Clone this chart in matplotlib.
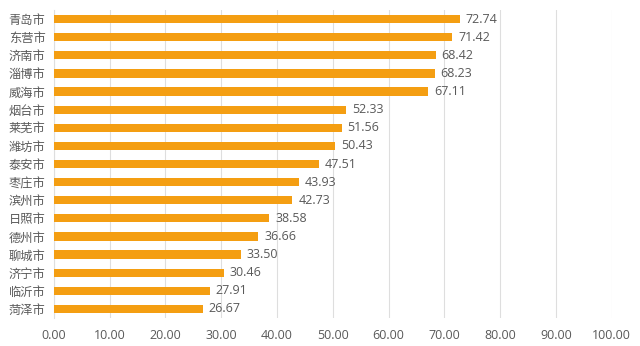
import matplotlib
matplotlib.use("Agg")
import matplotlib.pyplot as plt

cities = ["青岛市", "东营市", "济南市", "淄博市", "威海市", "烟台市", "莱芜市", "潍坊市", "泰安市",
          "枣庄市", "滨州市", "日照市", "德州市", "聊城市", "济宁市", "临沂市", "菏泽市"]
values = [72.74, 71.42, 68.42, 68.23, 67.11, 52.33, 51.56, 50.43, 47.51,
          43.93, 42.73, 38.58, 36.66, 33.50, 30.46, 27.91, 26.67]
xticks = [0, 10, 20, 30, 40, 50, 60, 70, 80, 90, 100]

plt.rcParams['font.family'] = ['Noto Sans CJK SC', 'DejaVu Sans']

fig = plt.figure(figsize=(6.4, 3.46), dpi=100)
ax = fig.add_axes([0.084, 0.081, 0.872, 0.890])

color = "#F49E12"
text_color = "#595959"
pos = list(range(len(cities)))[::-1]
ax.barh(pos, values, height=0.45, color=color, zorder=3)
for p, v in zip(pos, values):
    ax.text(v + 1.1, p, f"{v:.2f}", va="center", ha="left", fontsize=9,
            color=text_color, family=["Open Sans", "DejaVu Sans"])

ax.set_xlim(0, 100)
ax.set_ylim(-0.5, len(cities) - 0.5)
ax.set_yticks(pos)
ax.set_yticklabels(cities, fontsize=8.8, color=text_color)
ax.set_xticks(xticks)
ax.set_xticklabels([f"{t:.2f}" for t in xticks], fontsize=9, color=text_color,
                   family=["Open Sans", "DejaVu Sans"])
ax.tick_params(axis="both", length=0)
ax.tick_params(axis="x", pad=8)
ax.tick_params(axis="y", pad=6)
ax.grid(axis="x", color="#DEDEDE", linewidth=0.8, zorder=0)
for s in ["top", "right", "bottom"]:
    ax.spines[s].set_visible(False)
ax.spines["left"].set_color("#DEDEDE")
ax.spines["left"].set_linewidth(0.8)

fig.savefig("out.png", dpi=100, facecolor="white")
